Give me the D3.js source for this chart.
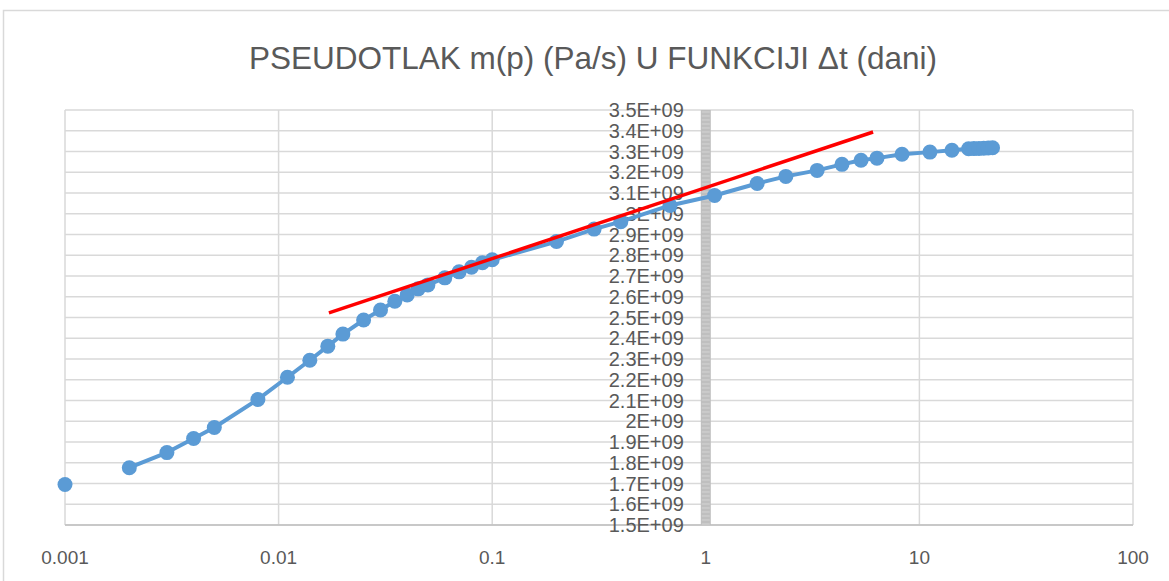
<!DOCTYPE html>
<html>
<head>
<meta charset="utf-8">
<script src="https://cdn.jsdelivr.net/npm/d3@7"></script>
<style>
  body { margin: 0; background: #fff; }
  #chart { width: 1169px; height: 581px; }
  text { font-family: "Liberation Sans", Arial, sans-serif; fill: #595959; }
</style>
</head>
<body>
<div id="chart"></div>
<script>
// pseudotlak m(p) vs delta t (dani)
var dt = [0.001, null, 0.002, 0.003, 0.004, 0.005, 0.008, 0.011, 0.014, 0.017, 0.02,
          0.025, 0.03, 0.035, 0.04, 0.045, 0.05, 0.06, 0.07, 0.08, 0.09, 0.1,
          0.2, 0.3, 0.4, 0.68, 1.1, 1.74, 2.37, 3.32, 4.34, 5.33, 6.33, 8.29,
          11.2, 14.2, 17, 18, 19, 20, 21, 22]
var mp = [1.695e9, null, 1.776e9, 1.849e9, 1.917e9, 1.97e9, 2.105e9, 2.212e9, 2.294e9, 2.362e9, 2.42e9,
          2.488e9, 2.536e9, 2.578e9, 2.609e9, 2.638e9, 2.657e9, 2.691e9, 2.72e9, 2.742e9, 2.764e9, 2.778e9,
          2.866e9, 2.926e9, 2.962e9, 3.04e9, 3.088e9, 3.146e9, 3.18e9, 3.209e9, 3.238e9, 3.258e9, 3.268e9, 3.287e9,
          3.297e9, 3.306e9, 3.313e9, 3.314e9, 3.315e9, 3.316e9, 3.317e9, 3.318e9]

// red straight line (semi-log fit)
var fitDt = [0.0172, 6.07]
var fitMp = [2.522e9, 3.394e9]

var xTicks = [0.001, 0.01, 0.1, 1, 10, 100]
var xTickLabels = ['0.001', '0.01', '0.1', '1', '10', '100']
var yTicks = [1.5e9, 1.6e9, 1.7e9, 1.8e9, 1.9e9, 2.0e9, 2.1e9, 2.2e9, 2.3e9, 2.4e9, 2.5e9,
              2.6e9, 2.7e9, 2.8e9, 2.9e9, 3.0e9, 3.1e9, 3.2e9, 3.3e9, 3.4e9, 3.5e9]

var title = 'PSEUDOTLAK m(p) (Pa/s) U FUNKCIJI \u0394t (dani)'

var W = 1169, H = 581

var svg = d3.select('#chart')
  .append('svg')
  .attr('width', W)
  .attr('height', H)

// chart frame
svg.append('rect')
  .attr('x', 3.5).attr('y', 10.5)
  .attr('width', W + 20).attr('height', H + 20)
  .attr('fill', 'none')
  .attr('stroke', '#d9d9d9')
  .attr('stroke-width', 1.5)

var x = d3.scaleLog().domain([0.001, 100]).range([65, 1133])
var y = d3.scaleLinear().domain([1.5e9, 3.5e9]).range([525, 110])

svg.append('text')
  .attr('x', 593).attr('y', 69)
  .attr('text-anchor', 'middle')
  .style('font-size', '31.5px')
  .text(title)

// gridlines
svg.append('g')
  .selectAll('line')
  .data(yTicks)
  .enter().append('line')
    .attr('x1', x(0.001)).attr('x2', x(100))
    .attr('y1', d => y(d)).attr('y2', d => y(d))
    .attr('stroke', '#d9d9d9')
    .attr('stroke-width', 1.5)

svg.append('g')
  .selectAll('line')
  .data(xTicks)
  .enter().append('line')
    .attr('x1', d => x(d)).attr('x2', d => x(d))
    .attr('y1', y(3.5e9)).attr('y2', y(1.5e9))
    .attr('stroke', '#d9d9d9')
    .attr('stroke-width', 1.5)

// bottom axis line
svg.append('line')
  .attr('x1', x(0.001)).attr('x2', x(100))
  .attr('y1', y(1.5e9)).attr('y2', y(1.5e9))
  .attr('stroke', '#bfbfbf')
  .attr('stroke-width', 1.5)

// vertical axis crossing at 1 - thick grey band
svg.append('rect')
  .attr('x', x(1) - 5).attr('y', y(3.5e9))
  .attr('width', 10).attr('height', y(1.5e9) - y(3.5e9))
  .attr('fill', '#bfbfbf')

svg.append('g')
  .selectAll('line')
  .data(d3.range(y(3.5e9) + 2, y(1.5e9), 4))
  .enter().append('line')
    .attr('x1', x(1) - 4).attr('x2', x(1) + 4)
    .attr('y1', d => d).attr('y2', d => d)
    .attr('stroke', '#d4d4d4')
    .attr('stroke-width', 1)

// y labels
var yFmt = d3.format('~g')
svg.append('g')
  .selectAll('text')
  .data(yTicks)
  .enter().append('text')
    .attr('x', x(1) - 22)
    .attr('y', d => y(d))
    .attr('dy', '0.36em')
    .attr('text-anchor', 'end')
    .style('font-size', '20px')
    .text(d => yFmt(d / 1e9) + 'E+09')

// x labels
svg.append('g')
  .selectAll('text')
  .data(xTicks)
  .enter().append('text')
    .attr('x', d => x(d))
    .attr('y', 564)
    .attr('text-anchor', 'middle')
    .style('font-size', '19px')
    .text((d, i) => xTickLabels[i])

var pts = dt.map((d, i) => ({t: d, v: mp[i]}))

var line = d3.line()
  .defined(d => d.v != null)
  .x(d => x(d.t))
  .y(d => y(d.v))

svg.append('path')
  .datum(pts)
  .attr('d', line)
  .attr('fill', 'none')
  .attr('stroke', '#5b9bd5')
  .attr('stroke-width', 4)
  .attr('stroke-linejoin', 'round')

svg.append('g')
  .selectAll('circle')
  .data(pts.filter(d => d.v != null))
  .enter().append('circle')
    .attr('cx', d => x(d.t))
    .attr('cy', d => y(d.v))
    .attr('r', 7.5)
    .attr('fill', '#5b9bd5')

var fit = fitDt.map((d, i) => ({t: d, v: fitMp[i]}))
svg.append('path')
  .datum(fit)
  .attr('d', line)
  .attr('fill', 'none')
  .attr('stroke', '#ff0000')
  .attr('stroke-width', 3.5)
</script>
</body>
</html>
